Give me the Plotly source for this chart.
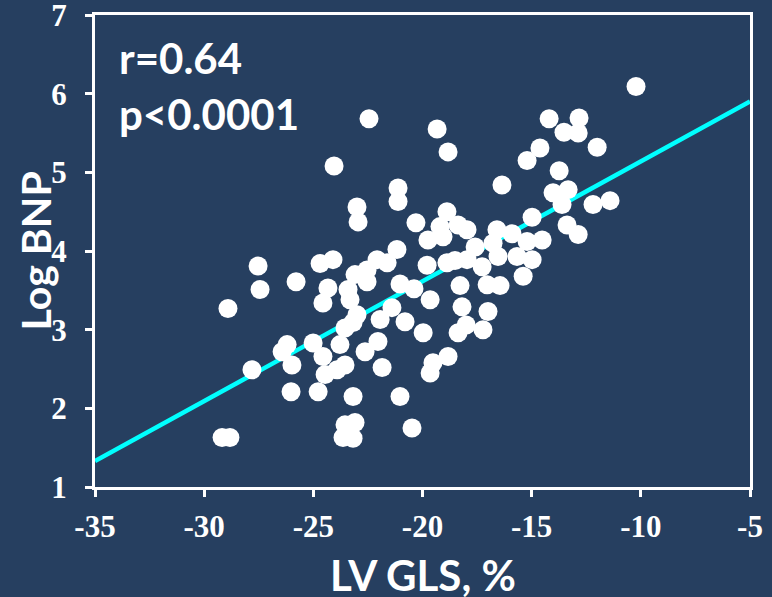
import plotly.graph_objects as go

# LV GLS (%) values
gls = [-10.22, -22.45, -19.33, -18.83, -24.05, -14.20, -12.83, -13.52, -12.87, -12.00,
       -14.62, -15.21, -13.74, -16.36, -21.12, -21.12, -23.00, -22.95, -14.02, -13.33,
       -13.61, -12.19, -11.41, -14.98, -13.38, -12.87, -20.30, -19.75, -19.20, -18.88,
       -18.37, -17.96, -19.06, -17.59, -16.59, -15.90, -16.77, -15.21, -14.52, -16.54,
       -15.67, -14.98, -17.96, -18.51, -18.88, -19.79, -17.27, -15.39, -17.04, -16.45,
       -18.28, -21.17, -22.08, -21.62, -22.54, -23.09, -24.10, -24.69, -27.53, -27.44,
       -25.79, -24.33, -23.41, -23.32, -22.54, -21.03, -20.39, -19.65, -18.19, -17.00,
       -17.23, -18.00, -18.37, -18.83, -19.52, -19.65, -21.03, -20.48, -28.91, -24.56,
       -23.00, -23.55, -23.18, -23.78, -23.55, -23.91, -24.46, -24.56, -25.01, -26.20,
       -26.43, -25.98, -27.81, -26.02, -24.78, -23.18, -23.55, -23.09, -23.64, -23.18,
       -29.18, -28.82, -21.40, -21.94, -20.80, -19.97, -22.04, -22.63, -21.85]

# Log BNP values
log_bnp = [6.09, 5.68, 5.55, 5.26, 5.08, 5.68, 5.69, 5.51, 5.50, 5.32,
           5.31, 5.15, 5.02, 4.84, 4.80, 4.63, 4.56, 4.37, 4.74, 4.78,
           4.59, 4.59, 4.64, 4.43, 4.33, 4.21, 4.36, 4.14, 4.31, 4.50,
           4.33, 4.27, 4.18, 4.05, 4.27, 4.22, 4.10, 4.12, 4.14, 3.93,
           3.93, 3.89, 3.89, 3.88, 3.85, 3.82, 3.80, 3.68, 3.57, 3.56,
           3.56, 4.02, 3.89, 3.85, 3.76, 3.70, 3.89, 3.84, 3.81, 3.51,
           3.61, 3.53, 3.51, 3.38, 3.61, 3.58, 3.52, 3.38, 3.29, 3.23,
           3.00, 3.06, 2.96, 2.66, 2.58, 2.45, 2.15, 1.75, 3.27, 3.34,
           3.19, 3.02, 3.09, 2.81, 2.55, 2.49, 2.43, 2.66, 2.83, 2.81,
           2.72, 2.55, 2.49, 2.21, 2.21, 2.15, 1.79, 1.82, 1.63, 1.62,
           1.63, 1.63, 3.28, 3.13, 3.10, 2.96, 2.85, 2.72, 2.52]

# Regression line endpoints
fit_x = [-35, -5]
fit_y = [1.33, 5.90]

x_ticks = [-35, -30, -25, -20, -15, -10, -5]
y_ticks = [1, 2, 3, 4, 5, 6, 7]
stats_lines = ["r=0.64", "p<0.0001"]
x_title = "LV GLS, %"
y_title = "Log BNP"

BG = "#263F60"
SANS = "Lato, 'Open Sans', sans-serif"
SERIF = "'Liberation Serif', 'Times New Roman', serif"

fig = go.Figure()
fig.add_trace(go.Scatter(x=fit_x, y=fit_y, mode="lines",
                         line=dict(color="#00FFFF", width=4.5),
                         hoverinfo="skip", showlegend=False))
fig.add_trace(go.Scatter(x=gls, y=log_bnp, mode="markers",
                         marker=dict(color="white", size=19, line=dict(width=0)),
                         showlegend=False))

fig.update_layout(
    width=772, height=597,
    paper_bgcolor=BG, plot_bgcolor=BG,
    margin=dict(l=95, r=22, t=15, b=110),
    showlegend=False,
)
fig.update_xaxes(
    range=[-35, -5], tickvals=x_ticks, ticktext=[str(v) for v in x_ticks],
    showgrid=False, zeroline=False, automargin=False,
    showline=True, linecolor="white", linewidth=3, mirror=True,
    ticks="outside", ticklen=7, tickwidth=2.5, tickcolor="white",
    ticklabelstandoff=3, ticklabeloverflow="allow",
    tickfont=dict(family=SERIF, size=31, color="white", weight="bold"),
)
fig.update_yaxes(
    range=[1, 7], tickvals=y_ticks, ticktext=[str(v) for v in y_ticks],
    showgrid=False, zeroline=False, automargin=False,
    showline=True, linecolor="white", linewidth=3, mirror=True,
    ticks="outside", ticklen=7, tickwidth=2.5, tickcolor="white",
    ticklabelstandoff=12, ticklabeloverflow="allow",
    tickfont=dict(family=SERIF, size=31, color="white", weight="bold"),
)

for txt, yp in zip(stats_lines, [0.909, 0.790]):
    fig.add_annotation(text=txt, xref="paper", yref="paper", x=0.033, y=yp,
                       xanchor="left", yanchor="middle", showarrow=False,
                       font=dict(family=SANS, size=42, color="white", weight="bold"))

fig.add_annotation(text=x_title, xref="paper", yref="paper", x=0.5, y=-0.186,
                   xanchor="center", yanchor="middle", showarrow=False,
                   font=dict(family=SANS, size=42, color="white", weight="bold"))
fig.add_annotation(text=y_title, xref="paper", yref="paper", x=-0.091, y=0.5,
                   xanchor="center", yanchor="middle", showarrow=False, textangle=-90,
                   font=dict(family=SANS, size=41, color="white", weight="bold"))

fig.write_html(
    "out.html",
    config={"displayModeBar": False},
    post_script="document.body.style.margin='0';document.body.style.background='%s';" % BG,
)
